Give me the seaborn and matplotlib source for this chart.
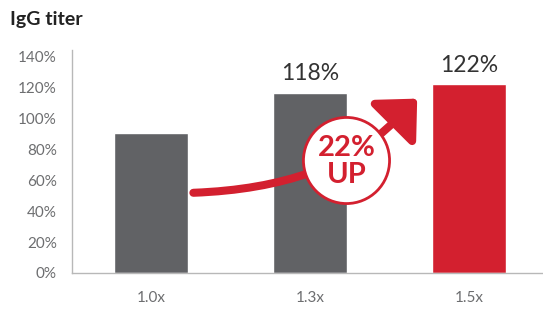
import matplotlib
matplotlib.use("Agg")
import matplotlib.pyplot as plt
import seaborn as sns
import pandas as pd
from matplotlib.path import Path
from matplotlib.patches import FancyArrowPatch

doses = ["1.0x", "1.3x", "1.5x"]
titer = [90.5, 116.5, 122]
bar_labels = ["", "118%", "122%"]
bar_colors = ["#616265", "#616265", "#d3202f"]
yticks = [0, 20, 40, 60, 80, 100, 120, 140]

red = "#d3202f"
grey_text = "#6d6e70"

sns.set_style("white")
plt.rcParams['font.family'] = ['Lato', 'DejaVu Sans']

df = pd.DataFrame({"dose": doses, "titer": titer})

fig = plt.figure(figsize=(5.43, 3.09), dpi=100)
ax = fig.add_axes([72 / 543, 36 / 309, 471 / 543, 223 / 309])

sns.barplot(data=df, x="dose", y="titer", hue="dose", palette=bar_colors,
            width=0.465, saturation=1, legend=False, ax=ax)

ax.set_xlim(-0.5, 2.465)
ax.set_ylim(0, 144)
ax.set_yticks(yticks)
ax.set_yticklabels([f"{t}%" for t in yticks])
ax.set_xlabel("")
ax.set_ylabel("")
ax.tick_params(axis="y", length=0, pad=11, labelsize=11, labelcolor=grey_text)
ax.tick_params(axis="x", length=0, pad=13, labelsize=11, labelcolor=grey_text)
for s in ["top", "right"]:
    ax.spines[s].set_visible(False)
for s in ["left", "bottom"]:
    ax.spines[s].set_color("#b8b8b8")
    ax.spines[s].set_linewidth(1)

# value labels above bars
for i, (v, lab) in enumerate(zip(titer, bar_labels)):
    if lab:
        ax.annotate(lab, (i, v), xytext=(0, 6), textcoords="offset points",
                    ha="center", va="bottom", fontsize=16.5, color="#333333")

# curved red arrow: gentle curve, then straight 45 degree run to the tip
verts = [(0.264, 51.8), (1.113, 55.0), (1.535, 98.4), (1.673, 112.6)]
codes = [Path.MOVETO, Path.CURVE3, Path.CURVE3, Path.LINETO]
arrow = FancyArrowPatch(path=Path(verts, codes),
                        arrowstyle="-|>,head_length=1.0,head_width=0.95",
                        mutation_scale=20, color=red, lw=5.8, capstyle="round",
                        joinstyle="round", shrinkA=0, shrinkB=0, zorder=4)
ax.add_patch(arrow)

# circle badge
ax.plot([1.226], [73.1], marker="o", markersize=62, mfc="white", mec=red,
        mew=2, zorder=5)
ax.text(1.232, 80.5, "22%", ha="center", va="center", fontsize=21,
        fontweight="bold", color=red, zorder=6)
ax.text(1.232, 63.5, "UP", ha="center", va="center", fontsize=21,
        fontweight="bold", color=red, zorder=6)

fig.text(10 / 543, 1 - 20 / 309, "IgG titer", ha="left", va="center",
         fontsize=14, fontweight="bold", color="#222222")

fig.savefig("out.png", dpi=100)
